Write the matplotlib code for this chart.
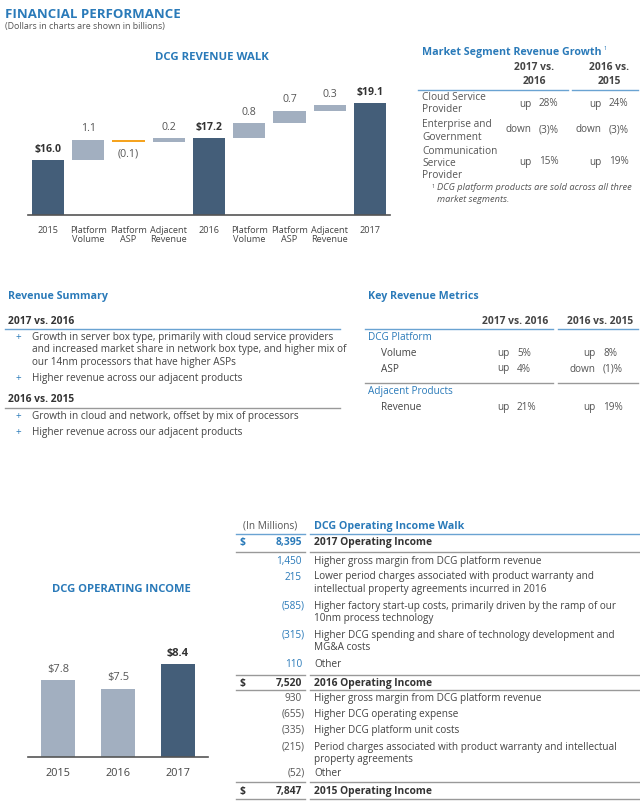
import matplotlib
matplotlib.use("Agg")
import matplotlib.pyplot as plt
from matplotlib.lines import Line2D

plt.rcParams['font.family'] = 'Open Sans'

W, H = 640, 805
BLUE = '#2a7ab9'
LBLUE = '#6aa3d2'
DARK = '#445e79'
LIGHT = '#a2afc0'
ORANGE = '#f5a31f'
GRAY = '#555555'
TXT = '#444444'
FS = 7.2

# revenue walk data (billions)
walk_cats = ['2015', 'Platform\nVolume', 'Platform\nASP', 'Adjacent\nRevenue', '2016',
             'Platform\nVolume', 'Platform\nASP', 'Adjacent\nRevenue', '2017']
walk_vals = [16.0, 1.1, -0.1, 0.2, 17.2, 0.8, 0.7, 0.3, 19.1]
walk_total = [True, False, False, False, True, False, False, False, True]

# operating income (billions)
oi_years = ['2015', '2016', '2017']
oi_vals = [7.8, 7.5, 8.4]

# market segment table
seg_names = [['Cloud Service', 'Provider'], ['Enterprise and', 'Government'],
             ['Communication', 'Service', 'Provider']]
seg_dir_17 = ['up', 'down', 'up']
seg_pct_17 = ['28%', '(3)%', '15%']
seg_dir_16 = ['up', 'down', 'up']
seg_pct_16 = ['24%', '(3)%', '19%']

# key revenue metrics
krm_rows = ['Volume', 'ASP', 'Revenue']
krm_dir_17 = ['up', 'up', 'up']
krm_pct_17 = ['5%', '4%', '21%']
krm_dir_16 = ['up', 'down', 'up']
krm_pct_16 = ['8%', '(1)%', '19%']

# operating income walk (millions)
oi17_total = '8,395'
oi17_items = ['1,450', '215', '(585)', '(315)', '110']
oi17_desc = [['Higher gross margin from DCG platform revenue'],
             ['Lower period charges associated with product warranty and',
              'intellectual property agreements incurred in 2016'],
             ['Higher factory start-up costs, primarily driven by the ramp of our',
              '10nm process technology'],
             ['Higher DCG spending and share of technology development and',
              'MG&A costs'],
             ['Other']]
oi16_total = '7,520'
oi16_items = ['930', '(655)', '(335)', '(215)', '(52)']
oi16_desc = [['Higher gross margin from DCG platform revenue'],
             ['Higher DCG operating expense'],
             ['Higher DCG platform unit costs'],
             ['Period charges associated with product warranty and intellectual',
              'property agreements'],
             ['Other']]
oi15_total = '7,847'

fig = plt.figure(figsize=(6.4, 8.05), dpi=100)


def T(x, y, s, **kw):
    kw.setdefault('va', 'center')
    kw.setdefault('fontsize', FS)
    kw.setdefault('color', TXT)
    fig.text(x / W, 1 - y / H, s, **kw)


def L(x0, x1, y, color=LBLUE, lw=1.0):
    fig.add_artist(Line2D([x0 / W, x1 / W], [1 - y / H, 1 - y / H], color=color, lw=lw))


def axes_px(l, t, r, b):
    return fig.add_axes([l / W, 1 - b / H, (r - l) / W, (b - t) / H])


# headings
T(5, 14, 'FINANCIAL PERFORMANCE', fontsize=9.5, fontweight='bold', color=BLUE)
T(5, 26, '(Dollars in charts are shown in billions)', fontsize=6.4, color=GRAY)

# ---- DCG revenue walk ----
T(212, 58, 'DCG REVENUE WALK', fontsize=8.2, fontweight='bold', color=BLUE, ha='center')
ax = axes_px(28, 80, 390, 215)
level = 0.0
for i, (v, tot) in enumerate(zip(walk_vals, walk_total)):
    if tot:
        ax.bar(i, v - 13, bottom=13, width=0.8, color=DARK)
        ax.text(i, v + 0.3, f'${v:.1f}', ha='center', va='bottom', fontsize=7.6,
                fontweight='bold', color='#333333')
        level = v
    else:
        lo = min(level, level + v)
        col = ORANGE if v < 0 else LIGHT
        ax.bar(i, abs(v), bottom=lo, width=0.8, color=col)
        if v < 0:
            ax.text(i, lo - 0.35, f'({abs(v):.1f})', ha='center', va='top', fontsize=7.6, color=GRAY)
        else:
            ax.text(i, lo + v + 0.3, f'{v:.1f}', ha='center', va='bottom', fontsize=7.6, color=GRAY)
        level += v
ax.set_xlim(-0.5, len(walk_vals) - 0.5)
ax.set_ylim(13, 13 + 135 / 18.3)
ax.set_xticks(range(len(walk_cats)))
ax.set_xticklabels(walk_cats, fontsize=6.6, color=TXT, linespacing=1.0)
ax.tick_params(length=0, pad=8)
ax.set_yticks([])
for s in ['top', 'right', 'left']:
    ax.spines[s].set_visible(False)
ax.spines['bottom'].set_color('#555555')
ax.spines['bottom'].set_linewidth(1.2)

# ---- market segment table ----
T(422, 53, 'Market Segment Revenue Growth', fontsize=7.7, fontweight='bold', color=BLUE)
T(604, 49, '1', fontsize=4, color=BLUE)
T(534, 68, '2017 vs.', fontsize=7.4, fontweight='bold', ha='center')
T(534, 82, '2016', fontsize=7.4, fontweight='bold', ha='center')
T(609, 68, '2016 vs.', fontsize=7.4, fontweight='bold', ha='center')
T(609, 82, '2015', fontsize=7.4, fontweight='bold', ha='center')
L(418, 568, 90)
L(572, 638, 90)
row_y = [[98, 110], [125, 137], [151, 164, 176]]
val_y = [104, 130, 162]
for names, ys, vy, d1, p1, d2, p2 in zip(seg_names, row_y, val_y, seg_dir_17, seg_pct_17,
                                         seg_dir_16, seg_pct_16):
    for n, y in zip(names, ys):
        T(422, y, n, color=GRAY, fontsize=7.3)
    T(532, vy, d1, ha='right', color=GRAY)
    T(539, vy, p1, color=GRAY)
    T(602, vy, d2, ha='right', color=GRAY)
    T(609, vy, p2, color=GRAY)
T(432, 186, '1', fontsize=4, color=GRAY)
T(437, 188, 'DCG platform products are sold across all three', fontsize=6.7,
  style='italic', color=GRAY)
T(437, 199, 'market segments.', fontsize=6.7, style='italic', color=GRAY)

# ---- revenue summary ----
T(8, 297, 'Revenue Summary', fontsize=7.7, fontweight='bold', color=BLUE)
T(8, 321, '2017 vs. 2016', fontsize=7.4, fontweight='bold', color='#333333')
L(5, 340, 329)
bul_17 = [['Growth in server box type, primarily with cloud service providers',
           'and increased market share in network box type, and higher mix of',
           'our 14nm processors that have higher ASPs'],
          ['Higher revenue across our adjacent products']]
bul_16 = [['Growth in cloud and network, offset by mix of processors'],
          ['Higher revenue across our adjacent products']]
for lines, y in zip(bul_17, [337, 378]):
    T(16, y, '+', color=BLUE)
    for k, s in enumerate(lines):
        T(32, y + k * 12.5, s)
T(8, 399, '2016 vs. 2015', fontsize=7.4, fontweight='bold', color='#333333')
L(5, 340, 408, color='#999999')
for lines, y in zip(bul_16, [416, 432]):
    T(16, y, '+', color=BLUE)
    for k, s in enumerate(lines):
        T(32, y + k * 12.5, s)

# ---- key revenue metrics ----
T(368, 297, 'Key Revenue Metrics', fontsize=7.7, fontweight='bold', color=BLUE)
T(548, 321, '2017 vs. 2016', fontsize=7.4, fontweight='bold', ha='right')
T(633, 321, '2016 vs. 2015', fontsize=7.4, fontweight='bold', ha='right')
L(365, 553, 329)
L(558, 638, 329)
T(368, 337, 'DCG Platform', color=BLUE)
T(368, 391, 'Adjacent Products', color=BLUE)
L(365, 553, 383, color='#999999')
L(558, 638, 383, color='#999999')
for name, y, d1, p1, d2, p2 in zip(krm_rows, [353, 369, 407], krm_dir_17, krm_pct_17,
                                   krm_dir_16, krm_pct_16):
    T(381, y, name)
    T(509, y, d1, ha='right', color=GRAY)
    T(517, y, p1, color=GRAY)
    T(596, y, d2, ha='right', color=GRAY)
    T(603, y, p2, color=GRAY)

# ---- DCG operating income chart ----
T(121, 589, 'DCG OPERATING INCOME', fontsize=8.1, fontweight='bold', color=BLUE, ha='center')
ax2 = axes_px(28, 620, 208, 757)
base = 5.0
for i, v in enumerate(oi_vals):
    last = i == len(oi_vals) - 1
    ax2.bar(i, v - base, bottom=base, width=0.58, color=DARK if last else LIGHT)
    ax2.text(i, v + 0.2, f'${v:.1f}', ha='center', va='bottom', fontsize=8.0,
             fontweight='bold' if last else 'normal', color='#333333' if last else GRAY)
ax2.set_xlim(-0.5, 2.5)
ax2.set_ylim(base, base + 137 / 27.35)
ax2.set_xticks(range(3))
ax2.set_xticklabels(oi_years, fontsize=7.8, color=TXT)
ax2.tick_params(length=0, pad=8)
ax2.set_yticks([])
for s in ['top', 'right', 'left']:
    ax2.spines[s].set_visible(False)
ax2.spines['bottom'].set_color('#555555')
ax2.spines['bottom'].set_linewidth(1.2)

# ---- operating income walk table ----
T(270, 526, '(In Millions)', ha='center', color=GRAY)
T(314, 526, 'DCG Operating Income Walk', fontsize=7.7, fontweight='bold', color=BLUE)
L(236, 305, 534)
L(310, 640, 534)


def total_row(y, val, label, color):
    T(240, y, '$', fontweight='bold', color=color, fontsize=7.4)
    T(302, y, val, ha='right', fontweight='bold', color=color, fontsize=7.4)
    T(314, y, label, fontweight='bold', color='#333333', fontsize=7.4)


def item_rows(ys, vals, descs, color):
    for y, v, d in zip(ys, vals, descs):
        if v.startswith('('):
            T(305, y, v, ha='right', color=color)
        else:
            T(302, y, v, ha='right', color=color)
        for k, s in enumerate(d):
            T(314, y + k * 12.5, s)


total_row(543, oi17_total, '2017 Operating Income', BLUE)
L(236, 305, 552, color='#999999')
L(310, 640, 552, color='#999999')
item_rows([561, 577, 606, 635, 664], oi17_items, oi17_desc, BLUE)
L(236, 305, 675, color='#999999')
L(310, 640, 675, color='#999999')
total_row(683, oi16_total, '2016 Operating Income', '#333333')
L(236, 305, 690, color='#999999')
L(310, 640, 690, color='#999999')
item_rows([698, 714, 730, 747, 773], oi16_items, oi16_desc, GRAY)
L(236, 305, 782, color='#999999')
L(310, 640, 782, color='#999999')
total_row(791, oi15_total, '2015 Operating Income', '#333333')
L(236, 305, 799, color='#999999')
L(310, 640, 799, color='#999999')

fig.savefig('out.png', dpi=100)
